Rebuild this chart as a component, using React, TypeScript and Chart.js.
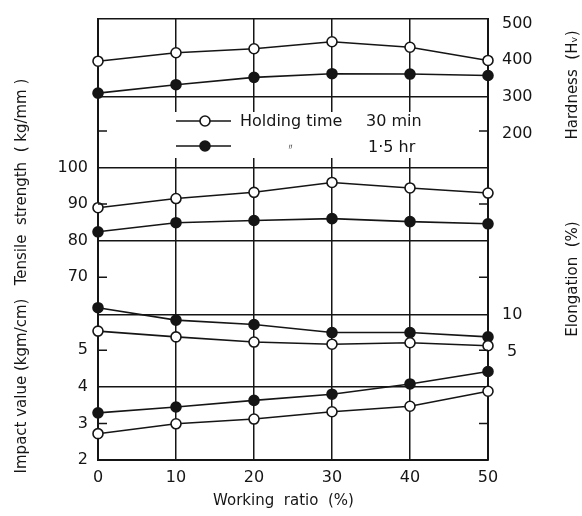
import React, { useEffect, useRef } from "react";
import { Chart, registerables } from "chart.js";

Chart.register(...registerables);

// ---- data ----
const WORKING_RATIO = [0, 10, 20, 30, 40, 50];

const HARDNESS_30MIN = [397, 420, 431, 450, 435, 399];
const HARDNESS_1_5HR = [310, 333, 353, 363, 362, 358];
const TENSILE_30MIN = [89.0, 91.5, 93.2, 95.9, 94.4, 93.0];
const TENSILE_1_5HR = [82.4, 84.9, 85.5, 86.0, 85.2, 84.6];
const ELONGATION_30MIN = [7.8, 7.0, 6.3, 6.0, 6.2, 5.8];
const ELONGATION_1_5HR = [11.0, 9.3, 8.7, 7.6, 7.6, 7.0];
const IMPACT_30MIN = [2.72, 2.99, 3.12, 3.32, 3.47, 3.88];
const IMPACT_1_5HR = [3.29, 3.45, 3.63, 3.8, 4.08, 4.42];

// ---- tick labels ----
const X_TICKS = [0, 10, 20, 30, 40, 50];
const TENSILE_TICKS = [100, 90, 80, 70];
const IMPACT_TICKS = [5, 4, 3, 2];
const HARDNESS_TICKS = [500, 400, 300, 200];
const ELONGATION_TICKS = [10, 5];
const TENSILE_MINOR = [110, 90, 70];
const IMPACT_MINOR = [5, 3];
const LEGEND_LABELS = ["30 min", "1·5 hr"];

// ---- axis ranges (each property has its own scale over the full plot height) ----
const TENSILE_MIN = 20;
const TENSILE_MAX = 140.6;
const IMPACT_MIN = 2;
const IMPACT_MAX = 14.06;
const HARDNESS_MIN = -689.6;
const HARDNESS_MAX = 512;
const ELONGATION_MIN = -9.86;
const ELONGATION_MAX = 50.55;

const INK = "#151515";
const FAMILY = '"DejaVu Sans", sans-serif';

const remap = (v: number, a0: number, a1: number, b0: number, b1: number) =>
  b0 + ((v - a0) / (a1 - a0)) * (b1 - b0);
const impactToLeft = (v: number) => remap(v, IMPACT_MIN, IMPACT_MAX, TENSILE_MIN, TENSILE_MAX);
const elongToLeft = (v: number) => remap(v, ELONGATION_MIN, ELONGATION_MAX, TENSILE_MIN, TENSILE_MAX);
const elongToHard = (v: number) => remap(v, ELONGATION_MIN, ELONGATION_MAX, HARDNESS_MIN, HARDNESS_MAX);

type T = { value: number; label: string; grid: boolean };

const leftTicks: T[] = [
  ...TENSILE_TICKS.map((v) => ({ value: v, label: String(v), grid: v === 100 || v === 80 })),
  ...IMPACT_TICKS.map((v) => ({ value: impactToLeft(v), label: String(v), grid: v === 4 })),
  { value: elongToLeft(10), label: "", grid: true },
  { value: TENSILE_MAX, label: "", grid: true },
].sort((a, b) => a.value - b.value);

const rightTicks: T[] = [
  ...HARDNESS_TICKS.map((v) => ({ value: v, label: String(v), grid: v === 300 })),
  ...ELONGATION_TICKS.map((v) => ({ value: elongToHard(v), label: v === 5 ? " 5" : String(v), grid: false })),
].sort((a, b) => a.value - b.value);

const pts = (arr: number[]) => WORKING_RATIO.map((x, i) => ({ x, y: arr[i] }));

const series = (label: string, arr: number[], axis: string, filled: boolean) => ({
  label,
  data: pts(arr),
  yAxisID: axis,
  borderColor: INK,
  borderWidth: 1.6,
  pointRadius: 5,
  pointHoverRadius: 5,
  pointBackgroundColor: filled ? INK : "#ffffff",
  pointBorderColor: INK,
  pointBorderWidth: 1.6,
  fill: false,
  tension: 0,
  clip: false as any,
});

const noPad = (s: any) => {
  s.paddingTop = 0;
  s.paddingBottom = 0;
  s.paddingLeft = 0;
  s.paddingRight = 0;
};

const decorPlugin = {
  id: "decor",
  afterDraw(chart: any) {
    const { ctx, chartArea: a, scales } = chart;
    const yT = scales.yTensile;
    const yI = scales.yImpact;
    ctx.save();
    ctx.strokeStyle = INK;
    ctx.lineWidth = 1.5;
    const minorYs = [
      ...TENSILE_MINOR.map((v) => yT.getPixelForValue(v)),
      ...IMPACT_MINOR.map((v) => yI.getPixelForValue(v)),
    ];
    for (const y of minorYs) {
      ctx.beginPath();
      ctx.moveTo(a.left, y);
      ctx.lineTo(a.left + 9, y);
      ctx.moveTo(a.right - 9, y);
      ctx.lineTo(a.right, y);
      ctx.stroke();
    }

    // legend
    ctx.fillStyle = "#ffffff";
    ctx.fillRect(172, 112, 253, 46);
    const rows = [121, 146];
    const dsets = chart.data.datasets;
    rows.forEach((y: number, i: number) => {
      const ds = dsets[i];
      ctx.strokeStyle = ds.borderColor;
      ctx.lineWidth = ds.borderWidth;
      ctx.beginPath();
      ctx.moveTo(176, y);
      ctx.lineTo(231, y);
      ctx.stroke();
      ctx.beginPath();
      ctx.arc(205, y, ds.pointRadius, 0, Math.PI * 2);
      ctx.fillStyle = ds.pointBackgroundColor;
      ctx.fill();
      ctx.lineWidth = ds.pointBorderWidth;
      ctx.strokeStyle = ds.pointBorderColor;
      ctx.stroke();
    });
    ctx.fillStyle = INK;
    ctx.textBaseline = "middle";
    ctx.textAlign = "left";
    ctx.font = `16px ${FAMILY}`;
    ctx.fillText("Holding time", 240, 122);
    ctx.fillText(LEGEND_LABELS[0], 366, 122);
    ctx.fillText(LEGEND_LABELS[1], 368, 148);
    ctx.font = `9px ${FAMILY}`;
    ctx.fillText("〃", 286, 148);

    // vertical axis titles
    ctx.font = `15px ${FAMILY}`;
    ctx.textAlign = "center";
    const vtext = (t: string, x: number, y: number) => {
      ctx.save();
      ctx.translate(x, y);
      ctx.rotate(-Math.PI / 2);
      ctx.fillText(t, 0, 0);
      ctx.restore();
    };
    vtext("Impact value (kgm/cm)", 22, 386);
    vtext("Tensile  strength  ( kg/mm )", 22, 182);
    vtext("Hardness  (H\u1D65)", 573, 85);
    vtext("Elongation  (%)", 573, 279);
    ctx.restore();
  },
};

export default function App() {
  const ref = useRef<HTMLCanvasElement | null>(null);

  useEffect(() => {
    const canvas = ref.current!;
    const chart = new Chart(canvas, {
      type: "line",
      data: {
        datasets: [
          series("Hardness 30 min", HARDNESS_30MIN, "yHardness", false),
          series("Hardness 1·5 hr", HARDNESS_1_5HR, "yHardness", true),
          series("Tensile 30 min", TENSILE_30MIN, "yTensile", false),
          series("Tensile 1·5 hr", TENSILE_1_5HR, "yTensile", true),
          series("Elongation 30 min", ELONGATION_30MIN, "yElongation", false),
          series("Elongation 1·5 hr", ELONGATION_1_5HR, "yElongation", true),
          series("Impact 30 min", IMPACT_30MIN, "yImpact", false),
          series("Impact 1·5 hr", IMPACT_1_5HR, "yImpact", true),
        ] as any,
      },
      options: {
        animation: false,
        responsive: true,
        maintainAspectRatio: false,
        events: [],
        layout: { padding: { top: 19, left: 0, right: 0, bottom: 0 } },
        plugins: { legend: { display: false }, tooltip: { enabled: false } },
        scales: {
          x: {
            type: "linear",
            position: "bottom",
            min: 0,
            max: 50,
            afterBuildTicks: (s: any) => {
              s.ticks = X_TICKS.map((v) => ({ value: v }));
            },
            afterFit: (s: any) => {
              s.height = 56;
              noPad(s);
            },
            grid: { color: INK, lineWidth: 1.5, drawTicks: false },
            border: { color: INK, width: 2 },
            ticks: {
              padding: 8,
              color: INK,
              autoSkip: false,
              maxRotation: 0,
              font: { family: FAMILY, size: 16 },
            },
            title: {
              display: true,
              text: "Working  ratio  (%)    ",
              color: INK,
              font: { family: FAMILY, size: 15 },
              padding: { top: 0, bottom: 6 },
            },
          },
          yTensile: {
            type: "linear",
            position: "left",
            min: TENSILE_MIN,
            max: TENSILE_MAX,
            afterBuildTicks: (s: any) => {
              s.ticks = leftTicks.map((t) => ({ value: t.value }));
            },
            afterFit: (s: any) => {
              s.width = 98;
              noPad(s);
            },
            grid: {
              drawTicks: false,
              lineWidth: 1.5,
              color: (c: any) => (leftTicks[c.index] && leftTicks[c.index].grid ? INK : "rgba(0,0,0,0)"),
            },
            border: { color: INK, width: 2 },
            ticks: {
              padding: 10,
              color: INK,
              autoSkip: false,
              font: { family: FAMILY, size: 16 },
              callback: (_v: any, i: number) => leftTicks[i].label,
            },
          },
          yImpact: {
            type: "linear",
            position: "left",
            display: false,
            min: IMPACT_MIN,
            max: IMPACT_MAX,
          },
          yHardness: {
            type: "linear",
            position: "right",
            min: HARDNESS_MIN,
            max: HARDNESS_MAX,
            afterBuildTicks: (s: any) => {
              s.ticks = rightTicks.map((t) => ({ value: t.value }));
            },
            afterFit: (s: any) => {
              s.width = 94;
              noPad(s);
            },
            grid: {
              drawTicks: false,
              lineWidth: 1.5,
              color: (c: any) => (rightTicks[c.index] && rightTicks[c.index].grid ? INK : "rgba(0,0,0,0)"),
            },
            border: { color: INK, width: 2 },
            ticks: {
              padding: 14,
              color: INK,
              autoSkip: false,
              font: { family: FAMILY, size: 16 },
              callback: (_v: any, i: number) => rightTicks[i].label,
            },
          },
          yElongation: {
            type: "linear",
            position: "right",
            display: false,
            min: ELONGATION_MIN,
            max: ELONGATION_MAX,
          },
        },
      } as any,
      plugins: [decorPlugin as any],
    });
    return () => chart.destroy();
  }, []);

  return (
    <div style={{ position: "absolute", left: 0, top: 0, width: 582, height: 516, background: "#fff" }}>
      <canvas ref={ref} />
    </div>
  );
}
